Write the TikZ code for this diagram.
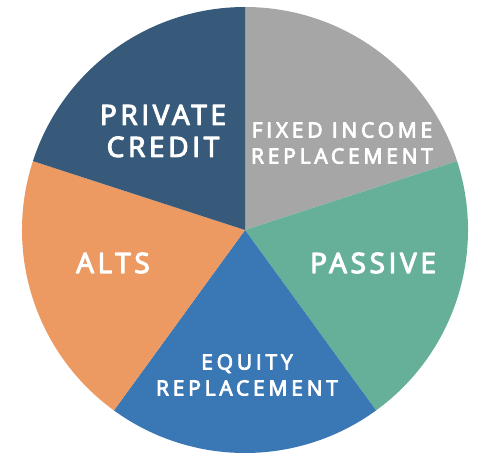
\documentclass[tikz,border=0pt]{standalone}
\usepackage{fontspec}
\setmainfont{Open Sans}
\newfontfamily\piefont{Open Sans}[LetterSpace=13, FakeBold=4]
\newfontfamily\piefontsmall{Open Sans}[LetterSpace=18, FakeBold=4]
\usetikzlibrary{positioning}
\definecolor{privblue}{HTML}{375A7A}
\definecolor{fixedgray}{HTML}{A6A6A6}
\definecolor{passgreen}{HTML}{66B09A}
\definecolor{eqblue}{HTML}{3A78B5}
\definecolor{altorange}{HTML}{EC9A61}

\begin{document}
\begin{tikzpicture}[x=1pt, y=1pt, line join=round,
	biglabel/.style={text=white, align=center, inner sep=0pt,
		font=\piefont\fontsize{28}{32}\selectfont},
	smalllabel/.style={text=white, align=center, inner sep=0pt,
		font=\piefontsmall\fontsize{21}{26}\selectfont}]
	\useasboundingbox (0,0) rectangle (485,453);
	\def\r{223} % radius of the pie
	\coordinate (O) at (245,223);

	% --- 1. SLICES ---
	\foreach \a/\b/\c in {90/18/fixedgray, 18/-54/passgreen, -54/-126/eqblue,
		-126/-198/altorange, 162/90/privblue}{
		\fill[\c] (O) -- ++(\a:\r) arc[start angle=\a, end angle=\b, radius=\r] -- cycle;
	}

	% --- 2. LABELS ---
	\node[biglabel] (priv) at (163,322) {PRIVATE\\CREDIT};
	\node[smalllabel] (fixed) at (342,310) {FIXED INCOME\\REPLACEMENT};
	\node[biglabel] (alts) at (113,190) {ALTS};
	\node[biglabel] (pass) at (373,190) {PASSIVE};
	\node[smalllabel] (equity) at (247,78) {EQUITY\\REPLACEMENT};
\end{tikzpicture}
\end{document}
